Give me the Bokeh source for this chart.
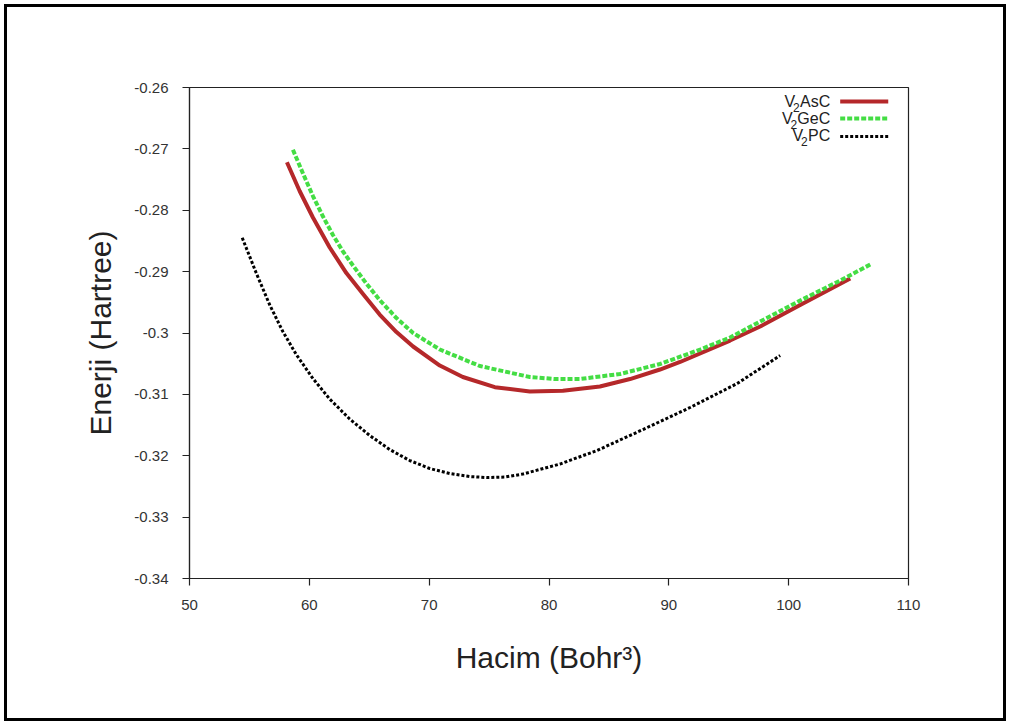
from bokeh.plotting import figure
from bokeh.models import FixedTicker, Label, Arrow
from bokeh.embed import file_html
from bokeh.resources import INLINE

# ---- data ----
v2asc_x = [58.13, 59.19, 60.30, 61.70, 63.09, 64.48, 65.87, 67.27, 68.66, 70.89,
           72.81, 75.48, 78.40, 81.16, 84.25, 86.76, 89.26, 90.94, 95.11, 97.62,
           100.96, 105.14]
v2asc_y = [-0.27217, -0.27686, -0.28118, -0.28607, -0.29023, -0.29365, -0.29699,
           -0.29984, -0.30220, -0.30530, -0.30717, -0.30883, -0.30954, -0.30942,
           -0.30872, -0.30750, -0.30595, -0.30472, -0.30123, -0.29894, -0.29544,
           -0.29112]

v2gec_x = [58.63, 59.47, 60.30, 61.14, 61.97, 62.81, 63.64, 64.76, 65.87, 67.27,
           68.66, 70.89, 74.23, 78.40, 80.49, 82.58, 85.92, 89.26, 92.61, 95.11,
           97.62, 100.96, 104.30, 106.81]
v2gec_y = [-0.27015, -0.27401, -0.27768, -0.28102, -0.28403, -0.28672, -0.28900,
           -0.29194, -0.29463, -0.29756, -0.30000, -0.30269, -0.30538, -0.30717,
           -0.30750, -0.30750, -0.30668, -0.30505, -0.30269, -0.30074, -0.29813,
           -0.29471, -0.29145, -0.28884]

v2pc_x = [54.40, 55.57, 56.68, 57.79, 58.91, 60.30, 61.70, 63.37, 65.04, 66.71,
          68.38, 70.05, 71.72, 73.39, 74.81, 76.32, 77.82, 80.91, 84.00, 87.84,
          91.77, 95.70, 99.29]
v2pc_y = [-0.28449, -0.29023, -0.29536, -0.29976, -0.30351, -0.30742, -0.31076,
          -0.31402, -0.31670, -0.31899, -0.32078, -0.32208, -0.32290, -0.32339,
          -0.32355, -0.32347, -0.32298, -0.32135, -0.31915, -0.31573, -0.31214,
          -0.30823, -0.30367]

series_main = ["AsC", "GeC", "PC"]   # legend names are V + subscript 2 + main
x_ticks = [50, 60, 70, 80, 90, 100, 110]
y_ticks = [-0.34, -0.33, -0.32, -0.31, -0.30, -0.29, -0.28, -0.27, -0.26]
y_tick_labels = ["-0.34", "-0.33", "-0.32", "-0.31", "-0.3", "-0.29", "-0.28", "-0.27", "-0.26"]
x_title = "Hacim (Bohr\u00b3)"
y_title = "Enerji (Hartree)"

FONT = "Liberation Sans"

p = figure(width=1002, height=717, output_backend="svg", toolbar_location=None,
           x_range=(50, 110), y_range=(-0.34, -0.26),
           min_border_left=182, min_border_right=101, min_border_top=80,
           min_border_bottom=146)
p.styles = {"border": "3px solid black", "margin-left": "4px", "margin-top": "4px"}
p.grid.visible = False
p.background_fill_color = "white"
p.border_fill_color = "white"
p.outline_line_color = "#222222"
p.outline_line_width = 1.2
p.outline_line_alpha = 1.0

# axes
p.xaxis.ticker = FixedTicker(ticks=x_ticks)
p.yaxis.ticker = FixedTicker(ticks=y_ticks)
p.yaxis.major_label_overrides = {t: l for t, l in zip(y_ticks, y_tick_labels)}
for ax in (p.xaxis[0], p.yaxis[0]):
    ax.axis_line_color = "#222222"
    ax.axis_line_width = 1.2
    ax.major_tick_line_color = "#222222"
    ax.major_tick_line_width = 1.2
    ax.major_tick_in = 0
    ax.major_tick_out = 7
    ax.minor_tick_line_color = None
    ax.major_label_text_font = FONT
    ax.major_label_text_font_size = "15px"
    ax.major_label_text_color = "#333333"
    ax.axis_label_text_font = FONT
    ax.axis_label_text_font_size = "30px"
    ax.axis_label_text_font_style = "normal"
    ax.axis_label_text_color = "#222222"

p.xaxis.axis_label = x_title
p.yaxis.axis_label = y_title
p.xaxis.major_label_standoff = 14
p.xaxis.axis_label_standoff = 28
p.yaxis.major_label_standoff = 14
p.yaxis.axis_label_standoff = 14

# curves
styles = [
    dict(color="#b5282a", width=4, dash="solid"),
    dict(color="#44dd44", width=4, dash="5 2"),
    dict(color="#000000", width=3, dash="3 2"),
]
for xs, ys, st in zip([v2asc_x, v2gec_x, v2pc_x], [v2asc_y, v2gec_y, v2pc_y], styles):
    p.line(xs, ys, line_color=st["color"], line_width=st["width"], line_dash=st["dash"],
           line_join="round")

# custom legend (text right-aligned, sample line on the right), gnuplot style
leg_text_x = 103.47
leg_line_x0, leg_line_x1 = 104.3, 108.31
leg_text_y = [-0.26220, -0.26497, -0.26780]
leg_line_y = [-0.26228, -0.26505, -0.26797]
main_w = [30.5, 33.0, 22.5]          # rendered widths (px) of the main parts
sub_w = 6.7
for name, w, ty, ly, st in zip(series_main, main_w, leg_text_y, leg_line_y, styles):
    p.add_layout(Label(x=leg_text_x, y=ty, text=name, text_align="right",
                       text_baseline="middle", text_font=FONT,
                       text_font_size="16px", text_color="#222222"))
    p.add_layout(Label(x=leg_text_x, y=ty, text="2", text_align="right",
                       x_offset=-w, y_offset=-6,
                       text_baseline="middle", text_font=FONT,
                       text_font_size="12px", text_color="#222222"))
    p.add_layout(Label(x=leg_text_x, y=ty, text="V", text_align="right",
                       x_offset=-(w + sub_w - 2.0),
                       text_baseline="middle", text_font=FONT,
                       text_font_size="16px", text_color="#222222"))
    p.add_layout(Arrow(end=None, x_start=leg_line_x0, y_start=ly, x_end=leg_line_x1,
                       y_end=ly, line_color=st["color"], line_width=st["width"],
                       line_dash=st["dash"]))

open("out.html", "w").write(file_html(p, INLINE))
